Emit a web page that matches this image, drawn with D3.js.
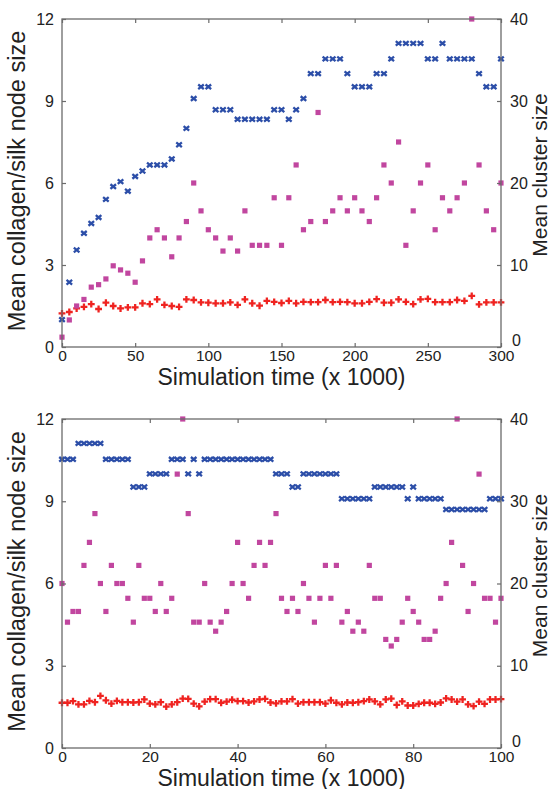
<!DOCTYPE html>
<html><head><meta charset="utf-8">
<script src="https://cdn.jsdelivr.net/npm/d3@7"></script>
<style>body{margin:0;background:#fff}</style>
</head><body>
<svg id="c" width="550" height="789"></svg>
<script>
// ---------- Data ----------
const topTime = [0,5,10,15,20,25,30,35,40,45,50,55,60,65,70,75,80,85,90,95,100,105,110,115,120,125,130,135,140,145,150,155,160,165,170,175,180,185,190,195,200,205,210,215,220,225,230,235,240,245,250,255,260,265,270,275,280,285,290,295,300];
const topCollagen = [1.0,2.37,3.55,4.16,4.52,4.74,5.40,5.87,6.05,5.70,6.24,6.44,6.66,6.66,6.66,6.88,7.40,8.0,9.09,9.52,9.52,8.68,8.68,8.68,8.33,8.33,8.33,8.33,8.33,8.68,8.68,8.33,8.68,9.09,10.0,10.0,10.54,10.54,10.54,10.0,9.52,9.52,9.52,10.0,10.0,10.54,11.11,11.11,11.11,11.11,10.54,10.54,11.11,10.54,10.54,10.54,10.54,10.0,9.52,9.52,10.54];
const topSilk = [1.23,1.28,1.41,1.47,1.57,1.39,1.62,1.50,1.41,1.45,1.45,1.60,1.57,1.74,1.54,1.50,1.47,1.74,1.72,1.63,1.62,1.60,1.60,1.63,1.54,1.74,1.60,1.51,1.69,1.65,1.61,1.69,1.60,1.65,1.64,1.64,1.72,1.64,1.65,1.64,1.60,1.60,1.65,1.75,1.62,1.62,1.74,1.65,1.57,1.74,1.76,1.64,1.64,1.64,1.72,1.69,1.87,1.56,1.63,1.63,1.63];
const topCluster = [1.2,3.3,5.0,5.8,7.3,7.6,8.3,9.9,9.4,9.0,7.9,10.5,13.3,14.3,13.3,11.0,13.3,15.3,20.0,16.6,14.3,13.3,11.7,13.3,11.7,16.6,12.4,12.4,12.4,18.2,12.4,18.2,22.2,14.3,15.3,28.6,15.3,16.6,18.2,16.6,18.2,16.6,15.3,18.2,22.2,20.0,25.0,12.4,16.6,20.0,22.2,14.3,18.2,16.6,18.2,20.0,40.0,22.2,16.6,14.3,20.0];

const botTime = [0,1.25,2.5,3.75,5,6.25,7.5,8.75,10,11.25,12.5,13.75,15,16.25,17.5,18.75,20,21.25,22.5,23.75,25,26.25,27.5,28.75,30,31.25,32.5,33.75,35,36.25,37.5,38.75,40,41.25,42.5,43.75,45,46.25,47.5,48.75,50,51.25,52.5,53.75,55,56.25,57.5,58.75,60,61.25,62.5,63.75,65,66.25,67.5,68.75,70,71.25,72.5,73.75,75,76.25,77.5,78.75,80,81.25,82.5,83.75,85,86.25,87.5,88.75,90,91.25,92.5,93.75,95,96.25,97.5,98.75,100];
const botCollagen = [10.53,10.53,10.53,11.11,11.11,11.11,11.11,11.11,10.53,10.53,10.53,10.53,10.53,9.52,9.52,9.52,10.0,10.0,10.0,10.0,10.53,10.53,10.53,10.0,10.53,10.0,10.53,10.53,10.53,10.53,10.53,10.53,10.53,10.53,10.53,10.53,10.53,10.53,10.53,10.0,10.0,10.0,9.52,9.52,10.0,10.0,10.0,10.0,10.0,10.0,10.0,9.09,9.09,9.09,9.09,9.09,9.09,9.52,9.52,9.52,9.52,9.52,9.52,9.09,9.52,9.09,9.09,9.09,9.09,9.09,8.70,8.70,8.70,8.70,8.70,8.70,8.70,8.70,9.09,9.09,9.09];
const botSilk = [1.65,1.65,1.71,1.59,1.59,1.72,1.67,1.90,1.74,1.62,1.72,1.67,1.67,1.66,1.67,1.77,1.62,1.59,1.67,1.51,1.59,1.67,1.80,1.79,1.62,1.52,1.69,1.78,1.78,1.65,1.69,1.76,1.71,1.71,1.66,1.70,1.77,1.79,1.66,1.63,1.70,1.70,1.78,1.62,1.67,1.67,1.67,1.67,1.62,1.74,1.65,1.59,1.66,1.65,1.67,1.71,1.77,1.70,1.59,1.77,1.80,1.57,1.70,1.55,1.55,1.61,1.65,1.65,1.61,1.66,1.81,1.77,1.69,1.77,1.59,1.53,1.69,1.61,1.77,1.77,1.78];
const botCluster = [20,15.3,16.6,16.6,22.2,25.0,28.5,20,16.6,22.2,20,20,18.2,15.3,22.2,18.2,18.2,16.6,20,16.6,18.2,33.3,40,28.5,15.3,15.3,20,15.3,14.2,15.3,16.6,20,25,20,18.2,22.2,25,22.2,25,28.5,18.2,16.6,18.2,16.6,20,18.2,15.3,18.2,22.2,18.2,22.2,15.3,16.6,14.2,15.3,14.2,22.2,18.2,18.2,13.2,12.4,13.2,15.3,18.2,16.6,15.3,13.2,13.2,14.2,18.2,20,25,40,22.2,16.6,20,33.3,18.2,18.2,15.3,18.2];

const leftTicks = [0,3,6,9,12];
const rightTicks = [0,10,20,30,40];
const topXTicks = [0,50,100,150,200,250,300];
const botXTicks = [0,20,40,60,80,100];

const xLabel = "Simulation time (x 1000)";
const leftLabel = "Mean collagen/silk node size";
const rightLabel = "Mean cluster size";

// ---------- Drawing ----------
const svg = d3.select("#c");
const FONT = "'Liberation Sans', Arial, Helvetica, sans-serif";
const COL = {blue:"#2c4ea8", pink:"#c1469f", red:"#ef2320", axis:"#6b6b6b", text:"#222"};

function panel(cfg){
  const {x0,x1,y0,y1,time,collagen,silk,cluster,xTicks,xMax,titleDy} = cfg;
  const x = d3.scaleLinear().domain([0,xMax]).range([x0,x1]);
  const yL = d3.scaleLinear().domain([0,12]).range([y1,y0]);
  const yR = d3.scaleLinear().domain([0,40]).range([y1,y0]);
  const g = svg.append("g");

  // points: red silk
  g.append("g").selectAll("path").data(time).join("path")
    .attr("transform",(d,i)=>`translate(${x(d)},${yL(silk[i])})`)
    .attr("d", d3.symbol(d3.symbolCross, 26)())
    .attr("fill", COL.red);
  // pink cluster (right axis)
  g.append("g").selectAll("path").data(time).join("path")
    .attr("transform",(d,i)=>`translate(${x(d)},${yR(cluster[i])})`)
    .attr("d", d3.symbol(d3.symbolSquare, 27)())
    .attr("fill", COL.pink);
  // blue collagen
  g.append("g").selectAll("path").data(time).join("path")
    .attr("transform",(d,i)=>`translate(${x(d)},${yL(collagen[i])})`)
    .attr("d", "M-2.8,-2.3L2.8,2.3M-2.8,2.3L2.8,-2.3")
    .attr("stroke", COL.blue).attr("stroke-width",2.3).attr("fill","none");

  // frame
  g.append("rect").attr("x",x0).attr("y",y0).attr("width",x1-x0).attr("height",y1-y0)
    .attr("fill","none").attr("stroke",COL.axis).attr("stroke-width",1.3);

  // axes with inward ticks
  const axB = d3.axisBottom(x).tickValues(xTicks).tickSize(-4).tickPadding(3).tickFormat(d3.format("d"));
  const gB = g.append("g").attr("transform",`translate(0,${y1})`).call(axB);
  const axT = d3.axisTop(x).tickValues(xTicks).tickSize(-4).tickFormat("");
  const gT = g.append("g").attr("transform",`translate(0,${y0})`).call(axT);
  const axL = d3.axisLeft(yL).tickValues(leftTicks).tickSize(-4).tickPadding(8);
  const gL = g.append("g").attr("transform",`translate(${x0},0)`).call(axL);
  const axR = d3.axisRight(yR).tickValues(rightTicks).tickSize(-4).tickPadding(9);
  const gR = g.append("g").attr("transform",`translate(${x1},0)`).call(axR);
  [gB,gT,gL,gR].forEach(a=>{
    a.select(".domain").remove();
    a.selectAll(".tick line").attr("stroke",COL.axis).attr("stroke-width",1.2);
    a.selectAll(".tick text").attr("font-family",FONT).attr("font-size",16).attr("fill",COL.text);
  });
  gB.selectAll(".tick text").attr("font-size",15.5);
  // the right-axis "0" sits raised beside the last x label, as in the reference
  gR.selectAll(".tick").filter(d=>d===0).select("text").attr("y",-7).attr("x",11);

  // titles
  g.append("text").attr("x",(x0+x1)/2).attr("y",y1+titleDy)
    .attr("text-anchor","middle").attr("font-family",FONT).attr("font-size",23)
    .attr("fill",COL.text).text(xLabel);
  g.append("text").attr("transform",`translate(${x0-37},${(y0+y1)/2-2}) rotate(-90)`)
    .attr("text-anchor","middle").attr("font-family",FONT).attr("font-size",23.5)
    .attr("fill",COL.text).text(leftLabel);
  g.append("text").attr("transform",`translate(${x1+46},${(y0+y1)/2-8}) rotate(-90)`)
    .attr("text-anchor","middle").attr("font-family",FONT).attr("font-size",21)
    .attr("fill",COL.text).text(rightLabel);
}

panel({x0:62,x1:501,y0:19,y1:347,time:topTime,collagen:topCollagen,silk:topSilk,cluster:topCluster,xTicks:topXTicks,xMax:300,titleDy:38});
panel({x0:62,x1:501,y0:419,y1:748,time:botTime,collagen:botCollagen,silk:botSilk,cluster:botCluster,xTicks:botXTicks,xMax:100,titleDy:37.5});
</script>
</body></html>
